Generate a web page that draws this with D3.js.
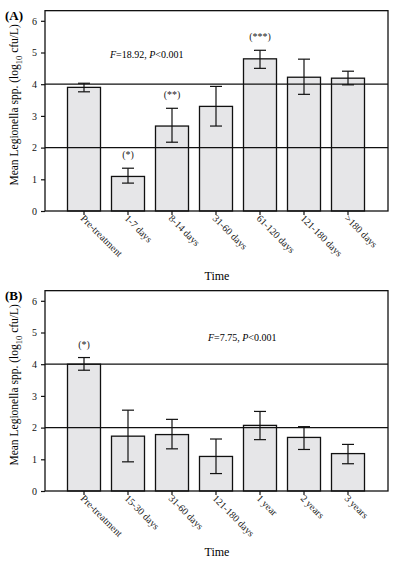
<!DOCTYPE html>
<html>
<head>
<meta charset="utf-8">
<script src="https://cdn.jsdelivr.net/npm/d3@7"></script>
<style>
  body { margin: 0; background: #fff; }
  svg { font-family: "Liberation Serif", "DejaVu Serif", serif; }
</style>
</head>
<body>
<svg width="395" height="562"></svg>
<script>
// Panel A data
const catsA  = ["Pre-treatment", "1-7 days", "8-14 days", "31-60 days", "61-120 days", "121-180 days", ">180 days"];
const meanA  = [3.90, 1.09, 2.68, 3.30, 4.80, 4.22, 4.19];
const lowA   = [3.76, 0.88, 2.17, 2.68, 4.50, 3.68, 3.98];
const highA  = [4.03, 1.35, 3.24, 3.93, 5.07, 4.79, 4.41];
const starsA = ["", "(*)", "(**)", "", "(***)", "", ""];
const statA  = ["18.92", "0.001"];

// Panel B data
const catsB  = ["Pre-treatment", "15-30 days", "31-60 days", "121-180 days", "1 year", "2 years", "3 years"];
const meanB  = [4.00, 1.73, 1.78, 1.09, 2.07, 1.69, 1.18];
const lowB   = [3.81, 0.92, 1.33, 0.55, 1.62, 1.31, 0.86];
const highB  = [4.21, 2.55, 2.26, 1.64, 2.51, 2.03, 1.47];
const starsB = ["(*)", "", "", "", "", "", ""];
const statB  = ["7.75", "0.001"];

const yTicks = [0, 1, 2, 3, 4, 5, 6];
const refLines = [2, 4];

const svg = d3.select("svg");

function drawPanel(offsetY, label, cats, mean, low, high, stars, stat, statX, statY, timeY) {
  const
    left = 45,
    right = 388,
    y0 = 211,
    g = svg.append("g").attr("transform", `translate(0,${offsetY})`),
    x = d3.scaleBand().domain(cats).range([62, 370]).paddingInner(0.25).paddingOuter(0.125),
    y = d3.scaleLinear().domain([0, 6.32]).range([y0, y0 - 6.32 * 31.7])
  ;
  // bars
  g.selectAll("rect.bar")
    .data(cats).enter()
    .append("rect")
      .attr("class", "bar")
      .attr("x", d => x(d))
      .attr("width", x.bandwidth())
      .attr("y", (d, i) => y(mean[i]))
      .attr("height", (d, i) => y(0) - y(mean[i]))
      .attr("fill", "#e6e6e8")
      .attr("stroke", "#111")
      .attr("stroke-width", 1.3)
  ;
  // reference lines
  g.selectAll("line.ref")
    .data(refLines).enter()
    .append("line")
      .attr("x1", left).attr("x2", right)
      .attr("y1", d => y(d)).attr("y2", d => y(d))
      .attr("stroke", "#111").attr("stroke-width", 1.2)
  ;
  // error bars
  const eb = g.selectAll("g.err")
    .data(cats).enter()
    .append("g")
      .attr("transform", d => `translate(${x(d) + x.bandwidth() / 2},0)`)
      .attr("stroke", "#111").attr("stroke-width", 1.2)
  ;
  eb.append("line").attr("y1", (d, i) => y(low[i])).attr("y2", (d, i) => y(high[i]));
  eb.append("line").attr("x1", -6).attr("x2", 6).attr("y1", (d, i) => y(low[i])).attr("y2", (d, i) => y(low[i]));
  eb.append("line").attr("x1", -6).attr("x2", 6).attr("y1", (d, i) => y(high[i])).attr("y2", (d, i) => y(high[i]));
  // significance stars
  g.selectAll("text.star")
    .data(cats).enter()
    .append("text")
      .attr("x", d => x(d) + x.bandwidth() / 2)
      .attr("y", (d, i) => y(high[i]) - 10)
      .attr("text-anchor", "middle")
      .style("font-size", "10px")
      .attr("fill", "#222")
      .text((d, i) => stars[i])
  ;
  // frame
  g.append("rect")
    .attr("x", left).attr("y", y(6.32))
    .attr("width", right - left).attr("height", y(0) - y(6.32))
    .attr("fill", "none").attr("stroke", "#111").attr("stroke-width", 1.3)
  ;
  // y axis
  g.append("g")
    .attr("transform", `translate(${left},0)`)
    .call(d3.axisLeft(y).tickValues(yTicks).tickSize(4).tickPadding(4).tickFormat(d3.format("d")))
    .call(a => a.select(".domain").remove())
    .call(a => a.selectAll("text").style("font-size", "10px").attr("fill", "#111").style("font-family", "Liberation Serif"))
    .call(a => a.selectAll("line").attr("stroke", "#111").attr("stroke-width", 1.2))
  ;
  // x ticks and rotated labels
  g.append("g")
    .attr("transform", `translate(0,${y0})`)
    .call(d3.axisBottom(x).tickSize(4).tickFormat(""))
    .call(a => a.select(".domain").remove())
    .call(a => a.selectAll("line").attr("stroke", "#111").attr("stroke-width", 1.2))
  ;
  g.selectAll("text.xlab")
    .data(cats).enter()
    .append("text")
      .attr("transform", d => `translate(${x(d) + x.bandwidth() / 2 - 4},${y0 + 8}) rotate(45)`)
      .style("font-size", "10px")
      .attr("fill", "#222")
      .text(d => d)
  ;
  // axis titles
  g.append("text")
    .attr("x", 217).attr("y", timeY)
    .attr("text-anchor", "middle")
    .style("font-size", "12px")
    .text("Time")
  ;
  const yl = g.append("text")
    .attr("transform", `translate(18,${(y(0) + y(6.32)) / 2 - 6}) rotate(-90)`)
    .attr("text-anchor", "middle")
    .style("font-size", "11.5px")
  ;
  yl.append("tspan").text("Mean Legionella spp. (log");
  yl.append("tspan").attr("dy", 4).style("font-size", "8.5px").text("10");
  yl.append("tspan").attr("dy", -4).text(" cfu/L)");
  // panel label
  g.append("text")
    .attr("x", 5).attr("y", y(6.32) + 9)
    .style("font-size", "13px").style("font-weight", "bold")
    .text(label)
  ;
  // statistics
  const st = g.append("text")
    .attr("x", statX).attr("y", statY)
    .style("font-size", "10px")
  ;
  st.append("tspan").style("font-style", "italic").text("F");
  st.append("tspan").text(`=${stat[0]}, `);
  st.append("tspan").style("font-style", "italic").text("P");
  st.append("tspan").text(`<${stat[1]}`);
}

drawPanel(0, "(A)", catsA, meanA, lowA, highA, starsA, statA, 110, 58, 280);
drawPanel(280, "(B)", catsB, meanB, lowB, highB, starsB, statB, 208, 61, 276);
</script>
</body>
</html>
